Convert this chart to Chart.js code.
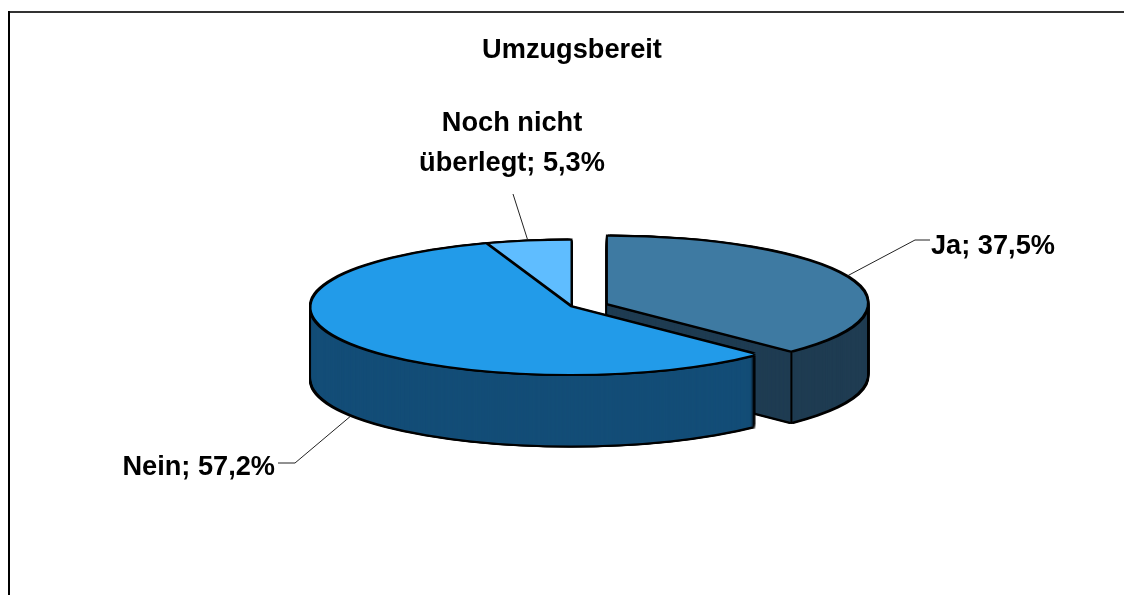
<!DOCTYPE html>
<html lang="de">
<head>
<meta charset="utf-8">
<title>Umzugsbereit</title>
<script src="https://cdn.jsdelivr.net/npm/chart.js@4"></script>
<style>
    html, body { margin: 0; padding: 0; background: #fff; overflow: hidden; }
    canvas { display: block; }
</style>
</head>
<body>
<canvas id="myChart" width="1124" height="595"></canvas>
<script>
//********************************************************************************//
//                            Data
//********************************************************************************//
const categories = ['Ja', 'Nein', 'Noch nicht überlegt'];
const shares = [37.5, 57.2, 5.3];
const chartTitle = 'Umzugsbereit';

//********************************************************************************//
//                            Colours and layout
//********************************************************************************//
const topColors = ['#3e7aa2', '#229be9', '#5fbdff'];
const wallColors = ['#1f3c52', '#134d77', '#134d77'];
const explode = [40.5, 0, 0];      // pulled out slice, px before squashing
const drawOrder = [2, 0, 1];       // back to front
const center = { x: 570.5, y: 307.3 };
const squash = 0.2574;
const depth = 71.5;
const fontFamily = '"Liberation Sans", Arial, sans-serif';
const font = 'bold 27.2px ' + fontFamily;
// leader line elbows and label anchors, per category
const leaders = [
    { elbow: [915, 240], end: [930, 240], text: [931, 254], align: 'left' },
    { elbow: [295, 463], end: [278, 463], text: [275, 475], align: 'right' },
    { elbow: [513, 194], end: null, text: [512, 131], align: 'center' }
];
const lineHeight = 40;

//********************************************************************************//
//                            Pie helpers
//********************************************************************************//
const sliceCenter = function (arc, i) {
    const mid = (arc.startAngle + arc.endAngle) / 2;
    return { x: center.x + Math.cos(mid) * explode[i], y: center.y + Math.sin(mid) * explode[i] * squash };
};

// screen position of a point on the slice rim, for a canvas angle in radians
const rimPoint = function (arc, i, angle) {
    const c = sliceCenter(arc, i);
    return { x: c.x + Math.cos(angle) * arc.outerRadius, y: c.y + Math.sin(angle) * arc.outerRadius * squash };
};

const drawSlice = function (ctx, arc, i, color, dx, dy, shrink) {
    const c = sliceCenter(arc, i);
    const ghost = Object.create(arc);
    ghost.options = Object.assign({}, arc.options, { backgroundColor: color, borderWidth: 0, offset: 0 });
    ghost.outerRadius = arc.outerRadius - shrink;
    ctx.save();
    ctx.translate(c.x + dx, c.y + dy);
    ctx.scale(1, squash);
    ctx.translate(-arc.x, -arc.y);
    ghost.draw(ctx);
    ctx.restore();
};

// black copies around the slice leave an even outline once the colour goes on top
const drawOutline = function (ctx, arc, i, lift) {
    const w = 2;
    [[-w, -w], [w, -w], [-w, w], [w, w], [0, -w], [0, w], [-w, 0], [w, 0]].forEach(function (s) {
        drawSlice(ctx, arc, i, '#000', s[0], s[1] + lift, 0);
    });
};

const segment = function (ctx, x1, y1, x2, y2, width, color) {
    ctx.beginPath();
    ctx.moveTo(x1, y1);
    ctx.lineTo(x2, y2);
    ctx.lineWidth = width;
    ctx.strokeStyle = color;
    ctx.stroke();
};

// "Noch nicht überlegt; 5,3%" wraps the way the data label does
const labelLines = function (ctx, name, value) {
    const words = (name + '; ' + value.toFixed(1).replace('.', ',') + '%').split(' ');
    const lines = [];
    let line = '';
    words.forEach(function (w) {
        const next = line ? line + ' ' + w : w;
        if (line && ctx.measureText(next).width > 220) {
            lines.push(line);
            line = w;
        } else {
            line = next;
        }
    });
    lines.push(line);
    return lines;
};

//********************************************************************************//
//                            Plugins
//********************************************************************************//
const framePlugin = {
    id: 'frame',
    beforeDraw: function (chart) {
        const ctx = chart.ctx;
        segment(ctx, 8, 12, 1124, 12, 2, '#333');
        segment(ctx, 9, 11, 9, 595, 2, '#000');
    }
};

const pie3dPlugin = {
    id: 'pie3d',
    beforeDatasetsDraw: function (chart) {
        const ctx = chart.ctx;
        const arcs = chart.getDatasetMeta(0).data;
        drawOrder.forEach(function (i) {
            const arc = arcs[i];
            let d;
            for (d = depth; d >= 1; d--) {
                drawOutline(ctx, arc, i, d);
            }
            for (d = depth; d >= 1; d--) {
                drawSlice(ctx, arc, i, wallColors[i], 0, d, 0.5);
            }
            // fold between the cut face and the rim
            if (i === 0) {
                const corner = rimPoint(arc, i, arc.endAngle);
                segment(ctx, corner.x, corner.y, corner.x, corner.y + depth, 2, '#000');
            }
            drawOutline(ctx, arc, i, 0);
            drawSlice(ctx, arc, i, topColors[i], 0, 0, 0.5);
        });
        return false;
    },
    afterDraw: function (chart) {
        const ctx = chart.ctx;
        const arcs = chart.getDatasetMeta(0).data;
        arcs.forEach(function (arc, i) {
            const mid = (arc.startAngle + arc.endAngle) / 2;
            const rim = rimPoint(arc, i, mid);
            // front slices are seen on their wall, so the leader starts at its foot
            const startY = Math.sin(mid) > 0 ? rim.y + depth + 2 : rim.y - 2;
            const l = leaders[i];
            segment(ctx, rim.x, startY, l.elbow[0], l.elbow[1], 1, '#222');
            if (l.end) {
                segment(ctx, l.elbow[0], l.elbow[1], l.end[0], l.end[1], 1, '#222');
            }
            ctx.save();
            ctx.font = font;
            ctx.fillStyle = '#000';
            ctx.textAlign = l.align;
            ctx.textBaseline = 'alphabetic';
            labelLines(ctx, categories[i], shares[i]).forEach(function (line, n) {
                ctx.fillText(line, l.text[0], l.text[1] + n * lineHeight);
            });
            ctx.restore();
        });
    }
};

//********************************************************************************//
//                            Chart
//********************************************************************************//
window.addEventListener('load', function () {
    new Chart(document.getElementById('myChart'), {
        type: 'pie',
        data: {
            labels: categories,
            datasets: [{
                data: shares,
                backgroundColor: topColors,
                borderWidth: 0
            }]
        },
        options: {
            responsive: false,
            animation: false,
            radius: 259.5,
            layout: { padding: { left: 20 } },
            plugins: {
                legend: { display: false },
                tooltip: { enabled: false },
                title: {
                    display: true,
                    text: chartTitle,
                    color: '#000',
                    font: { family: fontFamily, size: 27.2, weight: 'bold' },
                    padding: { top: 34, bottom: 10 }
                }
            }
        },
        plugins: [framePlugin, pie3dPlugin]
    });
});
</script>
</body>
</html>
